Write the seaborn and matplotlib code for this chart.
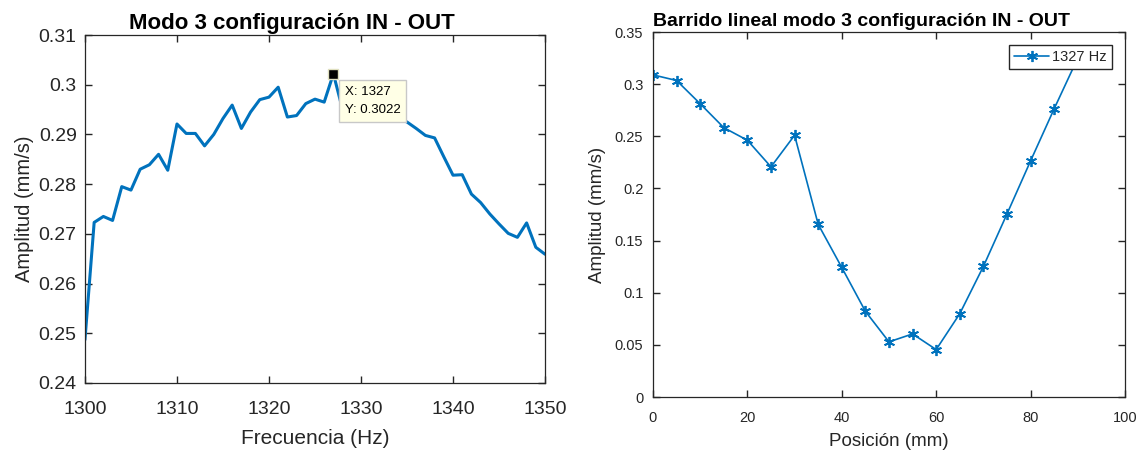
import numpy as np
import pandas as pd
import matplotlib
matplotlib.use('Agg')
import matplotlib.pyplot as plt
from matplotlib.ticker import FuncFormatter
import seaborn as sns

# --- data: frequency sweep (left) ---
freq_hz = list(range(1300, 1351))
amp_freq = [0.2487, 0.2723, 0.2735, 0.2727, 0.2795, 0.2788, 0.2830, 0.2839, 0.2860, 0.2828,
            0.2921, 0.2902, 0.2902, 0.2877, 0.2900, 0.2932, 0.2959, 0.2912, 0.2945, 0.2970,
            0.2975, 0.2995, 0.2935, 0.2938, 0.2962, 0.2971, 0.2965, 0.3022, 0.2950, 0.2953,
            0.2950, 0.2946, 0.2942, 0.2938, 0.2933, 0.2925, 0.2912, 0.2898, 0.2893, 0.2855,
            0.2818, 0.2819, 0.2780, 0.2763, 0.2740, 0.2720, 0.2701, 0.2693, 0.2722, 0.2673,
            0.2659]
peak_x = 1327
peak_y = 0.3022

# --- data: linear sweep (right) ---
pos_mm = [0, 5, 10, 15, 20, 25, 30, 35, 40, 45, 50, 55, 60, 65, 70, 75, 80, 85, 90]
amp_pos = [0.3089, 0.3035, 0.2812, 0.2583, 0.2462, 0.2207, 0.2510, 0.1656, 0.1242, 0.0822,
           0.0529, 0.0605, 0.0455, 0.0799, 0.1252, 0.1755, 0.2264, 0.2764, 0.3250]

df_freq = pd.DataFrame({'Frecuencia': freq_hz, 'Amplitud': amp_freq})
df_pos = pd.DataFrame({'Posicion': pos_mm, 'Amplitud': amp_pos})

sns.set_theme(style='ticks', rc={
    'xtick.direction': 'in', 'ytick.direction': 'in',
    'xtick.top': True, 'ytick.right': True,
    'xtick.major.size': 5, 'ytick.major.size': 5,
    'xtick.major.width': 1.0, 'ytick.major.width': 1.0,
})
plt.rcParams['font.family'] = ['Liberation Sans', 'DejaVu Sans']

blue = '#0072BD'
dark = '#262626'
fmt = FuncFormatter(lambda v, p: f'{v:g}')

fig = plt.figure(figsize=(11.45, 4.54), dpi=100)
ax1 = fig.add_axes([0.0742, 0.1564, 0.4018, 0.7665])
ax2 = fig.add_axes([0.5703, 0.1255, 0.4122, 0.8040])

# left panel
sns.lineplot(data=df_freq, x='Frecuencia', y='Amplitud', ax=ax1, color=blue, linewidth=2.2)
ax1.set_xlim(1300, 1350)
ax1.set_ylim(0.24, 0.31)
ax1.set_xticks(range(1300, 1351, 10))
ax1.set_yticks(np.arange(0.24, 0.3101, 0.01))
ax1.yaxis.set_major_formatter(fmt)
ax1.set_xlabel('Frecuencia (Hz)', fontsize=15, color=dark, labelpad=8)
ax1.set_ylabel('Amplitud (mm/s)', fontsize=14.5, color=dark, labelpad=3)
ax1.set_title('Modo 3 configuración IN - OUT', fontsize=16, fontweight='bold', color='black',
              x=0.096, ha='left', pad=4)
ax1.tick_params(labelsize=14, colors=dark, length=5, width=1.0)
ax1.tick_params(axis='x', pad=13)
ax1.tick_params(axis='y', pad=6)

# data tip
ax1.plot([peak_x], [peak_y], marker='s', color='black', markersize=7, markeredgecolor='#e0e0c0', zorder=5)
ax1.annotate(f'X: {peak_x}\nY: {peak_y}', xy=(peak_x, peak_y), xytext=(8, -9),
             textcoords='offset points', ha='left', va='top', fontsize=9.5, color='black',
             linespacing=1.6,
             bbox=dict(boxstyle='square,pad=0.45', fc='#FFFFE6', ec='#c8c8c8', lw=1), zorder=6)

# right panel
sns.lineplot(data=df_pos, x='Posicion', y='Amplitud', ax=ax2, color=blue, linewidth=1.2,
             marker=(6, 2, 0), markersize=8, markeredgewidth=1.3, markeredgecolor=blue,
             label='1327 Hz')
ax2.set_xlim(0, 100)
ax2.set_ylim(0, 0.35)
ax2.set_xticks(range(0, 101, 20))
ax2.set_yticks(np.arange(0, 0.3501, 0.05))
ax2.yaxis.set_major_formatter(fmt)
ax2.set_xlabel('Posición (mm)', fontsize=13.5, color=dark, labelpad=6)
ax2.set_ylabel('Amplitud (mm/s)', fontsize=13.5, color=dark, labelpad=6)
ax2.set_title('Barrido lineal modo 3 configuración IN - OUT', fontsize=14, fontweight='bold',
              color='black', x=0.0, ha='left', pad=4)
ax2.tick_params(labelsize=10.5, colors=dark, length=5, width=1.0)
ax2.tick_params(axis='x', pad=10)
ax2.tick_params(axis='y', pad=7)
leg = ax2.legend(loc='upper right', fontsize=10.5, frameon=True, fancybox=False, framealpha=1,
                 edgecolor=dark, handlelength=2.4, handletextpad=0.2, borderpad=0.35,
                 borderaxespad=0.9)
leg.get_frame().set_linewidth(1.0)

for ax in (ax1, ax2):
    for s in ax.spines.values():
        s.set_color(dark)
        s.set_linewidth(0.9)

fig.savefig('out.png', dpi=100, facecolor='white')
